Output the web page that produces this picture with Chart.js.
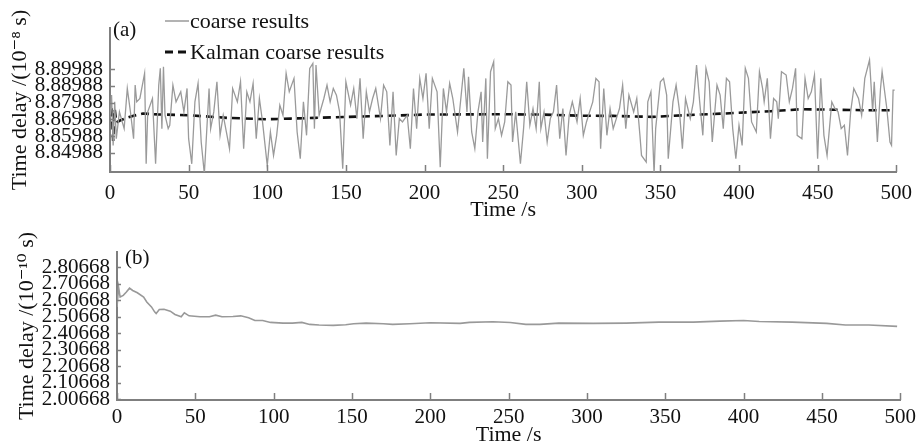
<!DOCTYPE html>
<html>
<head>
<meta charset="utf-8">
<script src="https://cdn.jsdelivr.net/npm/chart.js@4.4.1/dist/chart.umd.min.js"></script>
<style>
	body { margin: 0; background: #fff; }
	#wrap { position: relative; width: 921px; height: 443px; }
	.panel { position: absolute; left: 0; width: 921px; }
	.legend_row {
		position: absolute;
		left: 165px;
		height: 26px;
		line-height: 26px;
		font-family: "Liberation Serif", "DejaVu Serif", serif;
		font-size: 22px;
		color: #111;
		white-space: nowrap;
	}
	.legend_row svg { vertical-align: top; }
</style>
</head>
<body>
<div id="wrap">
	<div class="panel" style="top:0;height:220px"><canvas id="cntx_a"></canvas></div>
	<div class="panel" style="top:220px;height:223px"><canvas id="cntx_b"></canvas></div>
	<div class="legend_row" style="top:8px">
		<svg width="25" height="26"><line x1="0" y1="13" x2="24" y2="13" stroke="#9a9a9a" stroke-width="1.5"/></svg>coarse results
	</div>
	<div class="legend_row" style="top:39px">
		<svg width="25" height="26"><line x1="0" y1="13" x2="23" y2="13" stroke="#111" stroke-width="3" stroke-dasharray="8,5"/></svg>Kalman coarse results
	</div>
</div>
<script>
// (a) coarse results, time in s, delay in 1e-8 s
const coarse_time = [
	0, 1, 2, 3, 4, 6, 9, 11, 13, 15,
	16, 17, 19, 22, 23, 24, 27, 29, 31, 32,
	33, 34, 35, 37, 38, 40, 42, 45, 47, 49,
	50, 52, 54, 56, 58, 60, 63, 64, 66, 68,
	70, 72, 74, 76, 78, 81, 83, 85, 87, 89,
	91, 93, 95, 97, 100, 102, 104, 106, 108, 110,
	112, 114, 117, 119, 121, 123, 125, 127, 129, 130,
	131, 133, 136, 138, 140, 142, 144, 146, 148, 150,
	153, 155, 157, 159, 161, 163, 165, 167, 169, 172,
	174, 176, 178, 180, 182, 184, 186, 189, 191, 193,
	195, 197, 199, 201, 203, 205, 208, 210, 212, 214,
	216, 218, 221, 225, 227, 228, 230, 232, 234, 236,
	237, 239, 240, 242, 244, 245, 247, 249, 251, 253,
	255, 256, 258, 261, 263, 265, 267, 269, 271, 273,
	274, 276, 278, 280, 282, 284, 286, 288, 290, 292,
	294, 297, 299, 301, 303, 305, 307, 309, 311, 312,
	314, 316, 318, 320, 322, 324, 326, 328, 330, 333,
	335, 337, 338, 341, 342, 344, 346, 347, 350, 352,
	354, 355, 358, 360, 362, 364, 366, 369, 371, 373,
	375, 377, 379, 381, 383, 386, 388, 390, 392, 394,
	396, 398, 400, 402, 404, 406, 408, 411, 413, 415,
	416, 418, 420, 422, 424, 425, 427, 430, 432, 434,
	436, 437, 440, 442, 444, 446, 448, 450, 452, 454,
	456, 459, 461, 463, 465, 467, 469, 471, 473, 476,
	478, 480, 483, 485, 486, 488, 490, 491, 494, 496,
	497, 498, 499,
];
const coarse_delay = [
	8.8703, 8.8843, 8.8543, 8.8803, 8.8583, 8.8743, 8.8643, 8.8883, 8.8743, 8.8583,
	8.8903, 8.8803, 8.8823, 8.8973, 8.8433, 8.8743, 8.8823, 8.8433, 8.8903, 8.9003,
	8.8643, 8.9013, 8.8723, 8.8643, 8.8663, 8.8903, 8.8803, 8.8863, 8.8743, 8.8883,
	8.8583, 8.8433, 8.8803, 8.8913, 8.8563, 8.8373, 8.8883, 8.8643, 8.8743, 8.8923,
	8.8603, 8.8723, 8.8623, 8.8523, 8.8883, 8.8803, 8.8923, 8.8523, 8.8863, 8.8803,
	8.8913, 8.8583, 8.8823, 8.8683, 8.8423, 8.8623, 8.8483, 8.8603, 8.8783, 8.8723,
	8.8973, 8.8863, 8.8943, 8.8623, 8.8463, 8.8803, 8.8603, 8.9003, 8.9033, 8.8643,
	8.9023, 8.8723, 8.8823, 8.8903, 8.8803, 8.8883, 8.8843, 8.8743, 8.8403, 8.8923,
	8.8783, 8.8883, 8.8703, 8.8943, 8.8583, 8.8863, 8.8743, 8.8823, 8.8883, 8.8703,
	8.8903, 8.8863, 8.8543, 8.8863, 8.8483, 8.8703, 8.8683, 8.8723, 8.8523, 8.8883,
	8.8643, 8.8943, 8.8823, 8.8973, 8.8643, 8.8943, 8.8863, 8.8413, 8.8883, 8.8743,
	8.8913, 8.8823, 8.8623, 8.9003, 8.8743, 8.8953, 8.8623, 8.8523, 8.8743, 8.8863,
	8.8563, 8.8943, 8.8463, 8.8983, 8.9043, 8.8643, 8.8703, 8.8603, 8.8683, 8.8923,
	8.8903, 8.8563, 8.8743, 8.8433, 8.8643, 8.8923, 8.8663, 8.8763, 8.8643, 8.8923,
	8.8643, 8.8743, 8.8563, 8.8703, 8.8743, 8.8903, 8.8583, 8.8763, 8.8483, 8.8723,
	8.8803, 8.8683, 8.8823, 8.8603, 8.8683, 8.8743, 8.8803, 8.8943, 8.8923, 8.8523,
	8.8883, 8.8603, 8.8763, 8.8643, 8.8703, 8.8763, 8.8903, 8.8643, 8.8843, 8.8743,
	8.8823, 8.8603, 8.8483, 8.8443, 8.8803, 8.8863, 8.8373, 8.8643, 8.8923, 8.8943,
	8.8843, 8.8463, 8.8803, 8.8903, 8.8763, 8.8523, 8.8823, 8.8703, 8.8803, 8.9023,
	8.8803, 8.8603, 8.9003, 8.8923, 8.8563, 8.8903, 8.8843, 8.8643, 8.8943, 8.8923,
	8.8643, 8.8463, 8.8663, 8.8543, 8.9003, 8.8943, 8.8683, 8.8623, 8.8983, 8.8883,
	8.8803, 8.8943, 8.8583, 8.8823, 8.8803, 8.8703, 8.8983, 8.8963, 8.8803, 8.8883,
	8.9003, 8.8603, 8.8583, 8.8943, 8.8823, 8.8863, 8.8963, 8.8463, 8.8943, 8.8603,
	8.8483, 8.8803, 8.8763, 8.8743, 8.8643, 8.8663, 8.8483, 8.8743, 8.8883, 8.8823,
	8.8723, 8.8943, 8.9053, 8.8743, 8.8923, 8.8563, 8.8883, 8.8983, 8.8763, 8.8563,
	8.8543, 8.8873, 8.8873,
];

// (a) Kalman filtered
const kalman_time = [0, 1, 2, 3, 4, 6, 10, 15, 21, 30, 50, 75, 100, 115, 130, 150, 175, 200, 225, 250, 275, 300, 320, 345, 365, 390, 420, 440, 460, 480, 498];
const kalman_delay = [
	8.8720, 8.8780, 8.8570, 8.8760, 8.8680, 8.8690, 8.8705, 8.8720, 8.8733, 8.8728,
	8.8723, 8.8707, 8.8699, 8.8703, 8.8707, 8.8713, 8.8719, 8.8727, 8.8728, 8.8729,
	8.8727, 8.8720, 8.8719, 8.8713, 8.8723, 8.8733, 8.8747, 8.8759, 8.8756, 8.8753,
	8.8753,
];

// (b) time delay, 1e-10 s
const fine_time = [
	0, 1, 2, 4, 6, 8, 10, 13, 17, 19,
	22, 24, 25, 27, 30, 34, 37, 41, 43, 46,
	53, 59, 63, 67, 74, 79, 84, 88, 93, 98,
	106, 112, 118, 123, 129, 138, 146, 151, 159, 170,
	176, 187, 200, 219, 225, 240, 251, 261, 270, 282,
	304, 325, 346, 368, 385, 400, 410, 431, 453, 465,
	480, 498,
];
const fine_delay = [
	2.5667, 2.6867, 2.6267, 2.6367, 2.6567, 2.6807, 2.6667, 2.6527, 2.6267, 2.5967,
	2.5667, 2.5367, 2.5267, 2.5507, 2.5527, 2.5407, 2.5207, 2.5067, 2.5307, 2.5127,
	2.5067, 2.5067, 2.5167, 2.5067, 2.5087, 2.5127, 2.5007, 2.4847, 2.4847, 2.4727,
	2.4687, 2.4687, 2.4727, 2.4607, 2.4567, 2.4547, 2.4587, 2.4647, 2.4687, 2.4647,
	2.4607, 2.4647, 2.4707, 2.4667, 2.4727, 2.4767, 2.4727, 2.4607, 2.4607, 2.4687,
	2.4667, 2.4687, 2.4747, 2.4747, 2.4807, 2.4847, 2.4787, 2.4747, 2.4667, 2.4567,
	2.4567, 2.4487,
];

const ticks_a = [8.84988, 8.85988, 8.86988, 8.87988, 8.88988, 8.89988];
const ticks_b = [2.00668, 2.10668, 2.20668, 2.30668, 2.40668, 2.50668, 2.60668, 2.70668, 2.80668];

const serif = "'Liberation Serif', 'DejaVu Serif', serif";
const axis_grey = "#7f7f7f";

Chart.defaults.font.family = serif;
Chart.defaults.color = "#111";

toPoints = (xs, ys) => xs.map((x, i) => ({ x: x, y: ys[i] }));

// short tick marks pointing into the plot + the (a)/(b) tag
const innerTicks = {
	id: "innerTicks",
	afterDraw(chart, args, opts) {
		const { ctx, chartArea, scales } = chart;
		ctx.save();
		ctx.strokeStyle = axis_grey;
		ctx.lineWidth = 1.5;
		ctx.beginPath();
		scales.x.ticks.forEach((t, i) => {
			const px = Math.round(scales.x.getPixelForTick(i)) + 0.5;
			ctx.moveTo(px, chartArea.bottom);
			ctx.lineTo(px, chartArea.bottom - 7);
		});
		scales.y.ticks.forEach((t, i) => {
			const py = Math.round(scales.y.getPixelForTick(i)) + 0.5;
			ctx.moveTo(chartArea.left, py);
			ctx.lineTo(chartArea.left + opts.yTick, py);
		});
		ctx.stroke();
		ctx.fillStyle = "#111";
		ctx.font = "21px " + serif;
		ctx.textBaseline = "top";
		ctx.fillText(opts.tag, chartArea.left + opts.tagDx, chartArea.top + opts.tagDy);
		ctx.restore();
	},
};

drawChart = (canvas, datasets, yTitle, ySpec, box, tag) => {
	return new Chart(canvas, {
		type: "line",
		data: { datasets: datasets },
		plugins: [innerTicks],
		options: {
			responsive: true,
			maintainAspectRatio: false,
			animation: false,
			layout: { padding: { top: box.top, right: box.right, left: 0, bottom: 0 } },
			plugins: {
				legend: { display: false },
				tooltip: { enabled: false },
				innerTicks: tag,
			},
			elements: { point: { radius: 0 }, line: { tension: 0 } },
			scales: {
				x: {
					type: "linear",
					min: 0,
					max: 500,
					grid: { display: false, drawTicks: false },
					border: { color: axis_grey, width: 2 },
					ticks: { stepSize: 50, padding: box.xPad, font: { size: 21 }, maxRotation: 0 },
					title: {
						display: true,
						text: "Time /s",
						font: { size: 22, lineHeight: 1 },
						padding: { top: 0, bottom: box.xTitlePad },
					},
					afterFit: (s) => { s.height = box.xHeight; },
				},
				y: {
					type: "linear",
					min: ySpec.min,
					max: ySpec.max,
					grid: { display: false, drawTicks: false },
					border: { color: axis_grey, width: 2 },
					afterBuildTicks: (s) => { s.ticks = ySpec.ticks.map((v) => ({ value: v })); },
					ticks: {
						autoSkip: false,
						padding: 7,
						font: { size: 21, lineHeight: 0.8 },
						callback: (v) => v.toFixed(5),
					},
					title: {
						display: true,
						text: yTitle,
						font: { size: 22, lineHeight: 1 },
						padding: { top: box.yTitlePad, bottom: 0 },
					},
					afterFit: (s) => { s.width = box.left; },
				},
			},
		},
	});
};

drawChart(
	document.querySelector("#cntx_a"),
	[
		{
			data: toPoints(coarse_time, coarse_delay),
			borderColor: "#9a9a9a",
			borderWidth: 1.3,
		},
		{
			data: toPoints(kalman_time, kalman_delay),
			borderColor: "#111",
			borderWidth: 2.6,
			borderDash: [8, 5],
		},
	],
	"Time delay /(10\u207B\u2078 s)",
	{ min: 8.8384, max: 8.9244, ticks: ticks_a },
	{ top: 28, right: 24, left: 110, xHeight: 48, xPad: 9, xTitlePad: -1, yTitlePad: 9 },
	{ tag: "(a)", tagDx: 3, tagDy: -8, yTick: 5 }
);

drawChart(
	document.querySelector("#cntx_b"),
	[
		{
			data: toPoints(fine_time, fine_delay),
			borderColor: "#999",
			borderWidth: 1.6,
		},
	],
	"Time delay /(10\u207B\u00B9\u2070 s)",
	{ min: 2.002, max: 2.9, ticks: ticks_b },
	{ top: 32, right: 19, left: 117, xHeight: 43, xPad: 5, xTitlePad: -3, yTitlePad: 16 },
	{ tag: "(b)", tagDx: 8, tagDy: -4, yTick: 4 }
);
</script>
</body>
</html>
